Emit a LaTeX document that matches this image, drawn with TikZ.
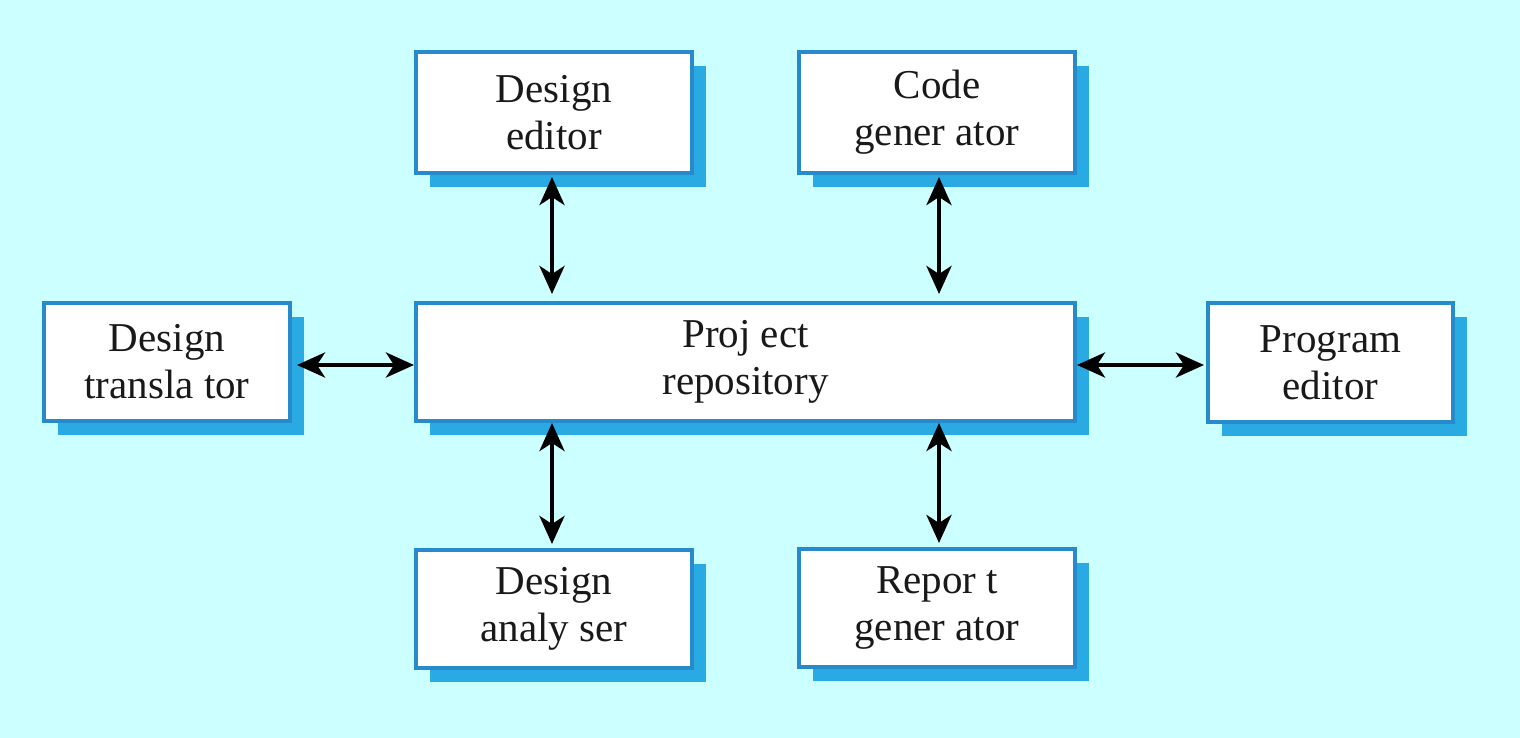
\documentclass[tikz,border=0pt]{standalone}
\usepackage{fontspec}
\setmainfont{Liberation Serif}
\usetikzlibrary{arrows.meta,shadows}
\definecolor{bgcyan}{RGB}{204,255,255}
\definecolor{boxborder}{RGB}{38,138,205}
\definecolor{shadowblue}{RGB}{41,170,226}
\definecolor{txt}{RGB}{25,25,25}
\tikzset{
  tool/.style={draw=boxborder, line width=4pt, fill=white, rectangle, inner sep=0pt,
    align=center, text=txt, font=\fontsize{41pt}{47pt}\selectfont,
    drop shadow={shadow xshift=14pt, shadow yshift=-14pt, fill=shadowblue, opacity=1}},
  biarrow/.style={line width=4.5pt, draw=black,
    {Stealth[length=28pt,width=25pt,inset=8pt]}-{Stealth[length=28pt,width=25pt,inset=8pt]}}
}
\begin{document}
\begin{tikzpicture}[x=1pt,y=-1pt]
\fill[bgcyan] (0,0) rectangle (1520,738);
\useasboundingbox (0,0) rectangle (1520,738);
\node[tool, minimum width=276pt, minimum height=121pt] (de) at (554,112.5) {Design\\editor};
\node[tool, minimum width=276pt, minimum height=121pt] (cg) at (937,112.5) {Code\\gener ator};
\node[tool, minimum width=246pt, minimum height=118pt] (dt) at (167,362) {Design\\transla tor};
\node[tool, minimum width=659pt, minimum height=118pt] (pr) at (745.5,362) {Proj ect\\repository};
\node[tool, minimum width=245pt, minimum height=119pt] (pe) at (1330.5,362.5) {Program\\editor};
\node[tool, minimum width=276pt, minimum height=118pt] (da) at (554,609) {Design\\analy ser};
\node[tool, minimum width=276pt, minimum height=118pt] (rg) at (937,608) {Repor t\\gener ator};
% vertical connectors
\draw[biarrow, shorten <=2pt, shorten >=7pt] ([xshift=-2pt]de.south) -- ([xshift=-2pt]de.south |- pr.north);
\draw[biarrow, shorten <=2pt, shorten >=7pt] ([xshift=2pt]cg.south) -- ([xshift=2pt]cg.south |- pr.north);
\draw[biarrow, shorten <=0pt, shorten >=4pt] ([xshift=-2pt]da.north |- pr.south) -- ([xshift=-2pt]da.north);
\draw[biarrow, shorten <=0pt, shorten >=4pt] ([xshift=2pt]rg.north |- pr.south) -- ([xshift=2pt]rg.north);
% horizontal connectors
\draw[biarrow, shorten <=5pt, shorten >=0pt] ([yshift=-3pt]dt.east) -- ([yshift=-3pt]dt.east -| pr.west);
\draw[biarrow, shorten <=0pt, shorten >=2pt] ([yshift=-3pt]pr.east) -- ([yshift=-3pt]pr.east -| pe.west);
\end{tikzpicture}
\end{document}
